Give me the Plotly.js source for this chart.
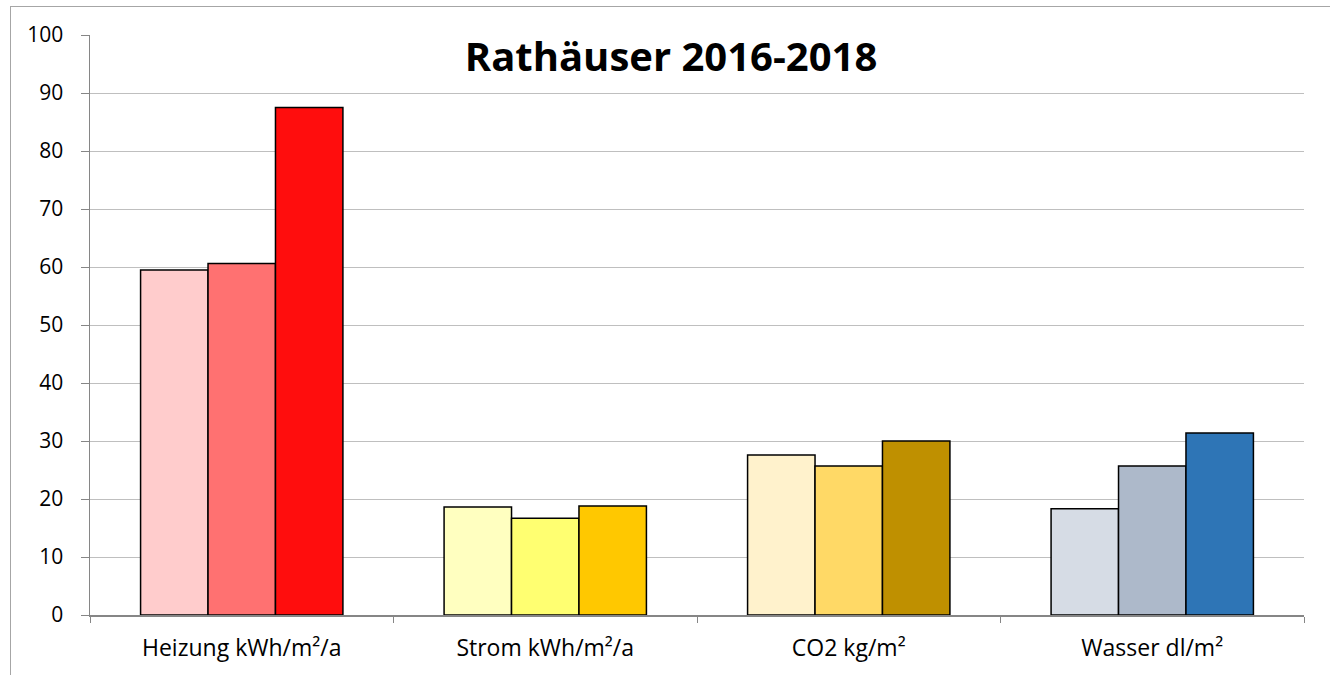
<!DOCTYPE html>
<html>
<head>
<meta charset="utf-8">
<script src="https://cdn.plot.ly/plotly-3.0.1.min.js"></script>
<style>
  html, body { margin: 0; padding: 0; background: #ffffff; overflow: hidden; }
  #frame { position: absolute; left: 10px; top: 6px; width: 1400px; height: 700px;
           border-left: 1px solid #a6a6a6; border-top: 1px solid #a6a6a6; pointer-events: none; z-index: 5; }
  #chart { position: absolute; left: 0; top: 0; width: 1330px; height: 675px; }
</style>
</head>
<body>
<div id="chart"></div>
<div id="frame"></div>
<script>
const categories = ['Heizung kWh/m²/a', 'Strom kWh/m²/a', 'CO2 kg/m²', 'Wasser dl/m²'];
const seriesNames = ['2016', '2017', '2018'];
const values2016 = [59.5, 18.6, 27.6, 18.3];
const values2017 = [60.6, 16.7, 25.7, 25.7];
const values2018 = [87.5, 18.8, 30.0, 31.4];
const colors2016 = ['#FFCCCC', '#FFFFC0', '#FFF2CC', '#D6DCE5'];
const colors2017 = ['#FF7171', '#FFFF71', '#FFD966', '#ADB9CA'];
const colors2018 = ['#FF0D0D', '#FFC800', '#BF9000', '#2E75B6'];
const chartTitle = 'Rathäuser 2016-2018';

const allValues = [values2016, values2017, values2018];
const allColors = [colors2016, colors2017, colors2018];

const traces = seriesNames.map((name, i) => ({
  type: 'bar',
  name: name,
  x: categories,
  y: allValues[i],
  marker: { color: allColors[i], line: { color: '#000000', width: 1.5 } },
  hoverinfo: 'x+y+name'
}));

const layout = {
  width: 1330,
  height: 675,
  margin: { l: 90, r: 26, t: 35, b: 60 },
  paper_bgcolor: '#ffffff',
  plot_bgcolor: '#ffffff',
  showlegend: false,
  barmode: 'group',
  bargap: 1/3,
  bargroupgap: 0,
  font: { family: 'Open Sans, sans-serif', color: '#000000', size: 16 },
  title: {
    text: '<b>' + chartTitle + '</b>',
    font: { family: 'Open Sans, sans-serif', size: 40, color: '#000000' },
    xref: 'paper', x: 0.4786, xanchor: 'center',
    yref: 'container', y: 1 - 57 / 675, yanchor: 'middle'
  },
  xaxis: {
    type: 'category',
    showline: true, linecolor: '#868686', linewidth: 1.5,
    showgrid: false,
    tickson: 'boundaries',
    ticks: 'outside', ticklen: 6, tickcolor: '#868686', tickwidth: 1,
    ticklabelstandoff: 12,
    tickfont: { size: 23, family: 'Open Sans, sans-serif', color: '#000000' },
    zeroline: false
  },
  yaxis: {
    range: [0, 100],
    dtick: 10,
    tick0: 0,
    showline: true, linecolor: '#868686', linewidth: 1.5,
    showgrid: true, gridcolor: '#BFBFBF', gridwidth: 1,
    ticks: 'outside', ticklen: 8, tickcolor: '#868686', tickwidth: 1,
    ticklabelstandoff: 13,
    tickfont: { size: 21, family: 'Open Sans, sans-serif', color: '#000000' },
    zeroline: false,
    fixedrange: true
  }
};

Plotly.newPlot('chart', traces, layout, { displayModeBar: false, staticPlot: true });
</script>
</body>
</html>
